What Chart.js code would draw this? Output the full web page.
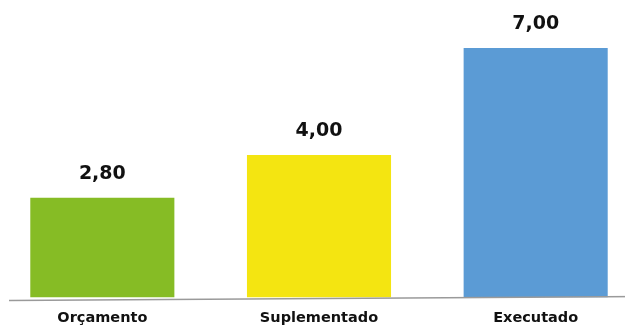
<!DOCTYPE html>
<html>
<head>
<meta charset="utf-8">
<script src="https://cdn.jsdelivr.net/npm/chart.js@4/dist/chart.umd.min.js"></script>
<style>
html,body{margin:0;padding:0;background:#fff;overflow:hidden;width:625px;height:326px;}
#wrap{position:absolute;left:-6px;top:0;width:650px;height:326px;}
</style>
</head>
<body>
<div id="wrap"><canvas id="c" width="650" height="326"></canvas></div>
<script>
const categories = ['Orçamento', 'Suplementado', 'Executado'];
const values = [2.80, 4.00, 7.00];
const barColors = ['#86BC25', '#F4E511', '#5B9BD5'];

const FONT = '"DejaVu Sans", sans-serif';

const valueLabels = {
  id: 'valueLabels',
  afterDatasetsDraw(chart) {
    const ctx = chart.ctx;
    const meta = chart.getDatasetMeta(0);
    ctx.save();
    ctx.font = 'bold 19px ' + FONT;
    ctx.fillStyle = '#111111';
    ctx.textAlign = 'center';
    ctx.textBaseline = 'middle';
    meta.data.forEach((bar, i) => {
      ctx.fillText(values[i].toFixed(2).replace('.', ','), bar.x, bar.y - 24);
    });
    ctx.restore();
  }
};

const baseLine = {
  id: 'baseLine',
  afterDatasetsDraw(chart) {
    const ctx = chart.ctx;
    const y0 = chart.scales.y.getPixelForValue(0);
    ctx.save();
    ctx.strokeStyle = '#9a9a9a';
    ctx.lineWidth = 1.5;
    ctx.beginPath();
    ctx.moveTo(chart.chartArea.left + 15, y0 + 3);
    ctx.lineTo(chart.chartArea.right, y0 - 1);
    ctx.stroke();
    ctx.restore();
  }
};

new Chart(document.getElementById('c'), {
  type: 'bar',
  data: {
    labels: categories,
    datasets: [{
      data: values,
      backgroundColor: barColors,
      borderWidth: 0,
      categoryPercentage: 1.0,
      barPercentage: 0.665
    }]
  },
  options: {
    responsive: false,
    animation: false,
    layout: { padding: { top: 48, left: 0, right: 0, bottom: -13 } },
    plugins: { legend: { display: false }, tooltip: { enabled: false } },
    scales: {
      x: {
        grid: { display: false, drawTicks: false },
        border: { display: false },
        ticks: { color: '#111111', font: { family: FONT, size: 14.5, weight: 'bold' }, padding: 12 }
      },
      y: {
        display: false,
        min: 0,
        max: 7
      }
    }
  },
  plugins: [valueLabels, baseLine]
});
</script>
</body>
</html>
